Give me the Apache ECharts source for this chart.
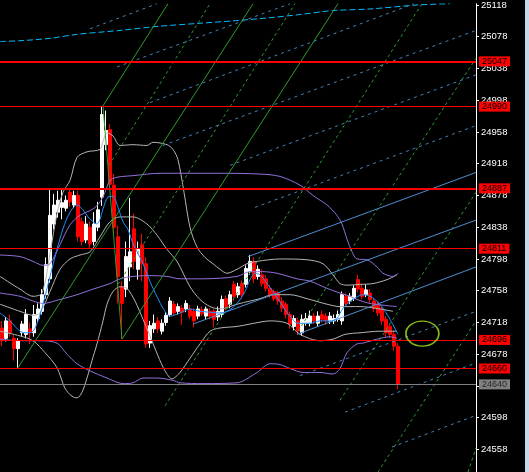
<!DOCTYPE html>
<html>
<head>
<meta charset="utf-8">
<script src="https://cdn.jsdelivr.net/npm/echarts@6/dist/echarts.min.js"></script>
<style>
  html, body { margin: 0; padding: 0; background: #C5D9EE; }
  #chart { width: 525px; height: 472px; background: #000000; }
</style>
</head>
<body>
<div id="chart"></div>
<script>
// ---------- DATA ----------
const slotCount = 119; // bar slots on the time axis (100 candles + right margin)
const opens  = [24711,24698,24720,24698,24685,24705,24703,24710,24705,24723,24732,24753,24773,24842,24857,24863,24862,24882,24866,24878,
                24845,24822,24838,24820,24838,24876,24942,24961,24891,24826,24763,24760,24788,24836,24785,24816,24792,24692,24710,24720,
                24707,24718,24728,24741,24732,24736,24735,24735,24732,24726,24734,24726,24732,24732,24725,24728,24748,24741,24766,24753,
                24767,24766,24782,24795,24776,24778,24773,24761,24757,24755,24745,24741,24728,24713,24720,24705,24717,24717,24726,24717,
                24728,24726,24720,24720,24722,24720,24751,24745,24748,24772,24761,24753,24755,24745,24741,24735,24722,24713,24703,24688];
const closes = [24695,24720,24705,24685,24695,24716,24728,24705,24728,24735,24753,24791,24853,24866,24872,24869,24872,24870,24878,24826,
                24820,24842,24817,24842,24860,24980,24960,24892,24838,24776,24742,24801,24807,24795,24810,24792,24691,24714,24717,24710,
                24717,24727,24745,24730,24738,24731,24742,24726,24720,24735,24729,24735,24726,24722,24732,24747,24738,24753,24751,24763,
                24753,24786,24795,24773,24785,24767,24761,24753,24748,24745,24736,24728,24716,24723,24707,24722,24723,24726,24720,24726,
                24722,24720,24726,24723,24728,24753,24742,24751,24761,24760,24751,24759,24747,24736,24730,24720,24705,24703,24688,24640];
const lows   = [24688,24694,24700,24670,24661,24700,24698,24691,24700,24718,24728,24748,24768,24835,24850,24848,24858,24864,24862,24820,
                24815,24818,24812,24815,24833,24865,24935,24885,24830,24742,24697,24750,24770,24785,24772,24770,24686,24686,24705,24705,
                24703,24714,24725,24726,24728,24715,24731,24722,24712,24722,24726,24722,24722,24712,24720,24724,24733,24736,24745,24749,
                24748,24762,24778,24768,24772,24763,24757,24749,24745,24740,24731,24723,24710,24708,24702,24701,24714,24713,24716,24713,
                24718,24715,24716,24716,24719,24715,24738,24741,24745,24756,24747,24750,24743,24731,24726,24715,24700,24698,24682,24634];
const highs  = [24720,24725,24728,24702,24698,24720,24735,24718,24740,24742,24760,24800,24886,24880,24884,24885,24878,24887,24884,24884,
                24850,24852,24845,24857,24870,24991,24985,24968,24905,24840,24770,24820,24875,24855,24820,24830,24800,24720,24728,24725,
                24722,24731,24750,24745,24742,24740,24746,24740,24736,24739,24738,24738,24736,24735,24738,24752,24752,24758,24770,24768,
                24771,24790,24803,24800,24790,24785,24778,24765,24760,24758,24750,24744,24732,24727,24724,24728,24730,24733,24730,24732,
                24733,24730,24731,24728,24733,24757,24755,24755,24765,24778,24767,24766,24760,24749,24745,24738,24726,24717,24708,24692];

// y-axis tick labels
const tickValues = [24558,24598,24638,24678,24718,24758,24798,24838,24878,24918,24958,24998,25038,25078,25118];
// horizontal price levels
const redLevels = [25047, 24990, 24887, 24811, 24696, 24660];
const redLevelWidths = [2, 1, 2, 1, 1, 1];
const currentPrice = 24640;

// indicator lines: [bar position, price]
const maBlue = [[-0.5,24730],[2,24720],[4.5,24707],[6.25,24705],[7.75,24707],[9,24720],[10.25,24741],[12,24776],[13.75,24810],[15.25,24836],
  [17,24857],[18.75,24866],[20.25,24860],[21.5,24851],[22.75,24845],[23.75,24842],[24.5,24848],[25.25,24861],[26.5,24876],[27.75,24877],
  [29,24863],[30.25,24845],[31.5,24835],[32.75,24817],[34,24805],[35.25,24792],[36.5,24776],[37.75,24761],[39,24748],[40.25,24736],
  [42,24726],[44.5,24730],[47,24735],[49.5,24732],[52,24731],[54,24730],[56.25,24732],[58.75,24742],[60.75,24757],[62,24772],
  [63.25,24780],[64.5,24778],[66.25,24767],[67.75,24757],[70.25,24738],[72,24726],[74,24717],[77,24717],[79.5,24720],[82,24720],
  [83.75,24723],[85.25,24736],[87.75,24747],[90.25,24753],[92,24751],[94.5,24741],[97,24722],[99,24703]];
const bbUpper = [[-0.5,24776],[4.5,24760],[7.75,24751],[10,24755],[12,24805],[13.75,24855],[15.25,24882],[17,24897],[18.75,24926],[21.25,24933],
  [24.5,24936],[25.25,24946],[26.25,24957],[27.75,24953],[29.5,24941],[32.75,24942],[36.25,24941],[37.75,24945],[41.25,24942],[42.75,24936],
  [44,24923],[45.5,24882],[47,24838],[48.75,24813],[50.75,24800],[52.75,24792],[54.5,24785],[56.25,24780],[58.75,24785],[61.25,24792],
  [63.75,24795],[69.5,24798],[76.25,24797],[80.25,24792],[82.75,24778],[84.5,24767],[86.25,24765],[89.5,24766],[92.75,24767],[96.25,24772],[98.75,24778]];
const bbMiddle = [[-0.5,24741],[4.5,24732],[7.75,24727],[9.5,24730],[12,24757],[14.5,24785],[17,24798],[19.5,24803],[22,24807],[24.5,24826],
  [27,24845],[29.5,24851],[32.75,24851],[36.25,24842],[38.75,24828],[41.25,24810],[43.75,24795],[47,24763],[49.5,24747],[52,24738],
  [54.5,24735],[58.75,24741],[62,24745],[64.5,24748],[67.75,24753],[72,24753],[76.25,24748],[81.25,24741],[84.5,24738],[89.5,24738],
  [94.5,24735],[97.75,24732]];
const bbLower = [[-0.5,24707],[4.5,24701],[7.75,24695],[10.75,24680],[13.75,24661],[15.75,24635],[17.5,24625],[18.75,24623],[20,24630],[21.25,24648],
  [22.5,24670],[23.75,24691],[25.25,24720],[26.25,24741],[27.75,24757],[29.5,24763],[31.25,24761],[33.25,24745],[35.25,24722],[37,24701],
  [39,24676],[40.75,24657],[42.5,24647],[44.5,24655],[47,24673],[49.5,24691],[52,24707],[54.5,24711],[58.75,24713],[62,24716],
  [67,24720],[71.25,24717],[74.5,24703],[79.5,24695],[82.75,24697],[85.75,24703],[89.5,24705],[94.5,24707],[98.75,24707]];
const envUpper = [[-0.5,24803],[4.5,24801],[7.75,24795],[10.25,24790],[12,24792],[14.5,24816],[17,24841],[19.5,24853],[22.75,24861],[24.5,24870],
  [25.75,24882],[27,24897],[28.75,24901],[32.75,24903],[39.5,24906],[54.5,24906],[64.5,24905],[69.5,24902],[74.5,24891],[77.75,24878],
  [81.25,24866],[83.75,24853],[85,24842],[86.25,24823],[87.5,24807],[88.75,24798],[91.25,24797],[93.75,24788],[95.25,24780],[97.75,24776],[99,24780]];
const envMiddle = [[-0.5,24755],[4.5,24751],[7.75,24745],[10.25,24742],[14.5,24747],[18.75,24753],[22.75,24760],[27,24767],[29.5,24773],[32.75,24776],
  [37,24777],[41.25,24776],[44.5,24773],[50.25,24773],[58.75,24776],[62,24782],[65.25,24782],[68.75,24780],[73.75,24773],[77,24770],
  [81.25,24761],[84.5,24755],[87,24751],[88.75,24747],[92,24742],[98.75,24738]];
const envLower = [[-0.5,24697],[4.5,24695],[9.5,24695],[13.75,24692],[16.25,24678],[18.75,24666],[22,24657],[26.25,24648],[30.25,24641],[32.75,24642],
  [35.25,24648],[38.75,24648],[42.75,24645],[44.5,24642],[50.25,24641],[58.75,24642],[63.75,24655],[67,24666],[69.5,24665],[72,24660],
  [75.25,24655],[79.5,24655],[82.75,24653],[84.5,24660],[86.25,24680],[88.75,24691],[90.25,24692],[93.75,24697],[97,24700],[98.75,24698]];
const cyanCurve = [[-0.5,25072],[4.5,25073],[12,25076],[18.75,25081],[29.5,25086],[38.75,25091],[49.5,25095],[57.75,25098],[67,25102],
  [74.5,25106],[82.75,25111],[92,25113],[103.75,25118],[112,25119.6]];

// drawn trend lines: [[bar, price], [bar, price]]
const greenSolid = [
  [[4,24661],[62.75,25119.6]],
  [[25.25,24991],[41.5,25119.6]],
  [[25.25,24991],[30,24697]],
  [[30,24697],[84,25119.6]]
];
const greenDashed = [
  [[26.75,24916],[52,25119.6]],
  [[29,24766],[73.25,25119.6]],
  [[40.75,24613],[105,25119.6]],
  [[74,24707],[118.5,25051]],
  [[84.5,24620],[118.5,24882]],
  [[94,24529.6],[118.5,24720]],
  [[116.5,24529.6],[118.5,24560]]
];
const blueDashed = [
  [[22,25088],[38.75,25119.6]],
  [[28.75,25040],[72,25119.6]],
  [[37,24995],[103,25119.6]],
  [[40.25,24941],[118.5,25086]],
  [[57,24916],[118.5,25030]],
  [[63.25,24863],[118.5,24966]],
  [[74.5,24651],[118.5,24732]],
  [[85.75,24605],[118.5,24667]],
  [[97.5,24561],[118.5,24601]]
];
const blueSolid = [
  [[61.5,24801],[118.5,24907]],
  [[47.75,24716],[118.5,24847]],
  [[73.75,24703],[118.5,24788]]
];
const ellipseMark = [[105.1, 24704]];

// ---------- CHART ----------
const categories = [];
for (let i = 0; i < slotCount; i++) categories.push(String(i));
const candles = opens.map((o, i) => [o, closes[i], lows[i], highs[i]]);

const FONT = 'Liberation Sans';
const series = [];

series.push({
  type: 'candlestick', xAxisIndex: 0, yAxisIndex: 0, data: candles, barWidth: 3, z: 2,
  silent: true,
  itemStyle: { color: '#FFFFFF', color0: '#FF0000', borderColor: '#FFFFFF', borderColor0: '#FF0000', borderWidth: 1 }
});

function addLine(data, color, type, z, smooth) {
  series.push({
    type: 'line', xAxisIndex: 1, yAxisIndex: 0, data: data, showSymbol: false, symbol: 'none',
    smooth: smooth ? 0.3 : false, silent: true, z: z, clip: true,
    lineStyle: { color: color, width: 1, type: type }
  });
}
addLine(bbUpper, '#B4B4B4', 'solid', 3, true);
addLine(bbMiddle, '#B4B4B4', 'solid', 3, true);
addLine(bbLower, '#B4B4B4', 'solid', 3, true);
addLine(envUpper, '#9370DB', 'solid', 3, true);
addLine(envMiddle, '#9370DB', 'solid', 3, true);
addLine(envLower, '#9370DB', 'solid', 3, true);
addLine(maBlue, '#1E90FF', 'solid', 4, true);
addLine(cyanCurve, '#00BFFF', [6, 3], 3, true);
greenSolid.forEach(s => addLine(s, '#2E9A2E', 'solid', 3, false));
greenDashed.forEach(s => addLine(s, '#2E9A2E', [3, 3], 3, false));
blueDashed.forEach(s => addLine(s, '#4682B4', [3, 4], 3, false));
blueSolid.forEach(s => addLine(s, '#4F8FD0', 'solid', 3, false));

// price levels with right-side boxes
const levelData = redLevels.map((v, k) => ({
  yAxis: v,
  lineStyle: { color: '#FF0000', width: redLevelWidths[k], type: 'solid' },
  label: { backgroundColor: '#FF0000', color: '#000000' }
}));
levelData.push({
  yAxis: currentPrice,
  lineStyle: { color: '#808080', width: 1, type: 'solid' },
  label: { backgroundColor: '#808080', color: '#262626' }
});
series.push({
  type: 'line', xAxisIndex: 1, yAxisIndex: 0, data: [], clip: false, z: 5, silent: true,
  markLine: {
    silent: true, symbol: ['none', 'none'], animation: false,
    label: {
      show: true, position: 'end', distance: 3,
      formatter: p => String(p.value),
      fontFamily: FONT, fontSize: 9, lineHeight: 9,
      padding: [1, 3, 0, 3]
    },
    data: levelData
  }
});

series.push({
  type: 'scatter', xAxisIndex: 1, yAxisIndex: 0, data: ellipseMark, symbol: 'circle', symbolSize: [33, 25],
  silent: true, z: 5,
  itemStyle: { color: 'rgba(0,0,0,0)', borderColor: '#A8E61E', borderWidth: 1.5 }
});

const chart = echarts.init(document.getElementById('chart'), null, { renderer: 'canvas' });
chart.setOption({
  animation: false,
  backgroundColor: '#000000',
  grid: { left: 0, top: 0, width: 476, height: 472, containLabel: false },
  xAxis: [
    { type: 'category', data: categories, boundaryGap: true, show: false, gridIndex: 0 },
    { type: 'value', min: -0.5, max: slotCount - 0.5, show: false, gridIndex: 0 }
  ],
  yAxis: [{
    type: 'value', position: 'right', min: 24529.6, max: 25119.6, scale: true,
    splitLine: { show: false },
    axisLine: { show: true, onZero: false, lineStyle: { color: '#FFFFFF', width: 1 } },
    axisTick: { show: true, customValues: tickValues, length: 3, inside: false, lineStyle: { color: '#FFFFFF' } },
    axisLabel: { show: true, customValues: tickValues, color: '#FFFFFF', fontFamily: FONT, fontSize: 9.5, margin: 5,
                 formatter: v => String(v) }
  }],
  series: series
});
</script>
</body>
</html>
